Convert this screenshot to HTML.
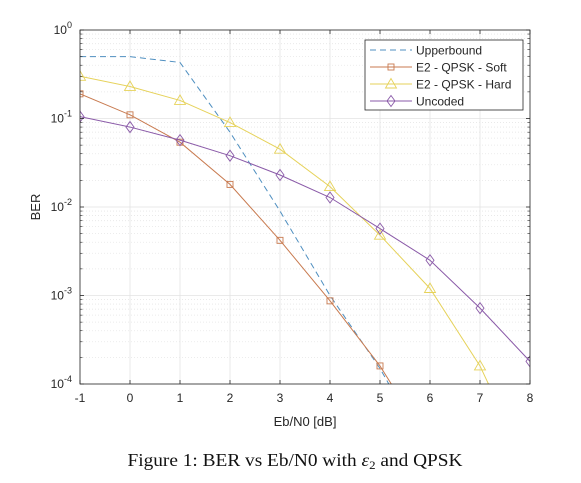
<!DOCTYPE html>
<html><head><meta charset="utf-8"><style>
body{margin:0;background:#fff;width:581px;height:483px;overflow:hidden}
svg{display:block}
</style></head><body>
<svg id="chart" width="581" height="483" xmlns="http://www.w3.org/2000/svg" font-family="Liberation Sans, sans-serif">
<rect x="0" y="0" width="581" height="483" fill="#fff"/>
<rect x="80" y="30" width="450" height="354" fill="#fff"/>
<g id="grid"></g>
<g id="series"></g>
<rect x="80" y="30" width="450" height="354" fill="none" stroke="#262626" stroke-width="0.8"/>
<g id="ticks"></g>
<text x="305" y="426" font-size="13" text-anchor="middle" fill="#262626">Eb/N0 [dB]</text>
<text x="40" y="207" font-size="13" text-anchor="middle" fill="#262626" transform="rotate(-90 40 207)">BER</text>
<g id="legend">
<rect x="365" y="40" width="158" height="70" fill="#fff" stroke="#262626" stroke-width="0.8"/>
</g>
<text x="295" y="466" font-size="18" text-anchor="middle" fill="#111" font-family="Liberation Serif, serif" textLength="335" lengthAdjust="spacingAndGlyphs">Figure 1: BER vs Eb/N0 with <tspan font-style="italic">ε</tspan><tspan font-size="12" dy="3">2</tspan><tspan dy="-3"> and QPSK</tspan></text>
</svg>
<script>
const xValues=[-1,0,1,2,3,4,5,6,7,8];
const upperbound=[0.5,0.5,0.43,0.07,0.009,0.001,0.00015,0.000015,null,null];
const soft=[0.19,0.11,0.054,0.018,0.0042,0.00087,0.00016,0.00002,null,null];
const hard=[0.3,0.23,0.16,0.09,0.045,0.017,0.0048,0.0012,0.00016,0.00001];
const uncoded=[0.105,0.08,0.057,0.038,0.023,0.0128,0.0057,0.0025,0.00072,0.00018];
const xTicks=[-1,0,1,2,3,4,5,6,7,8];
const yTicks=[0,-1,-2,-3,-4];
const legendLabels=["Upperbound","E2 - QPSK - Soft","E2 - QPSK - Hard","Uncoded"];

const NS="http://www.w3.org/2000/svg";
const X0=80,X1=530,Y0=30,Y1=384;
const xs=v=>X0+(v-(-1))/9*(X1-X0);
const ys=v=>Y0+(-Math.log10(v))/4*(Y1-Y0);
function mk(tag,attrs,parent){const e=document.createElementNS(NS,tag);for(const k in attrs)e.setAttribute(k,attrs[k]);parent.appendChild(e);return e;}
const grid=document.getElementById('grid'),ticks=document.getElementById('ticks'),series=document.getElementById('series'),legend=document.getElementById('legend');

xTicks.forEach(t=>{
  const l=mk('line',{x1:xs(t),x2:xs(t),y1:Y0,y2:Y1,stroke:'#e3e3e3','stroke-width':0.8},grid);
  
  
  mk('line',{x1:xs(t),x2:xs(t),y1:Y1,y2:Y1-4,stroke:'#262626','stroke-width':0.8},ticks);
  mk('line',{x1:xs(t),x2:xs(t),y1:Y0,y2:Y0+4,stroke:'#262626','stroke-width':0.8},ticks);
  const tx=mk('text',{x:xs(t),y:Y1+18,'font-size':12,'text-anchor':'middle',fill:'#262626'},ticks);
  tx.textContent=t;
  
  
});
yTicks.forEach(p=>{
  const y=ys(Math.pow(10,p));
  const l=mk('line',{x1:X0,x2:X1,y1:y,y2:y,stroke:'#e3e3e3','stroke-width':0.8},grid);
  
  
  if(p>-4){for(let m=2;m<=9;m++){const yy=ys(m*Math.pow(10,p-1));mk('line',{x1:X0,x2:X1,y1:yy,y2:yy,stroke:'#e6e6e6','stroke-width':0.8,'stroke-dasharray':'1,2'},grid);
    mk('line',{x1:X0,x2:X0+2.5,y1:yy,y2:yy,stroke:'#262626','stroke-width':0.6},ticks);mk('line',{x1:X1,x2:X1-2.5,y1:yy,y2:yy,stroke:'#262626','stroke-width':0.6},ticks);}}
  mk('line',{x1:X0,x2:X0+4,y1:y,y2:y,stroke:'#262626','stroke-width':0.8},ticks);
  mk('line',{x1:X1,x2:X1-4,y1:y,y2:y,stroke:'#262626','stroke-width':0.8},ticks);
  const tx=mk('text',{x:X0-8,y:y+4,'font-size':12,'text-anchor':'end',fill:'#262626'},ticks);
  
  
  tx.appendChild(document.createTextNode('10'));
  const s=mk('tspan',{dy:-6,'font-size':9},tx);s.textContent=String(p);
});

const clip=mk('clipPath',{id:'pc'},document.getElementById('chart'));
mk('rect',{x:X0,y:Y0,width:X1-X0,height:Y1-Y0},clip);

function marker(kind,x,y,color,parent){
  let e;
  if(kind==='sq')e=mk('rect',{x:x-3,y:y-3,width:6,height:6,fill:'none',stroke:color,'stroke-width':0.9},parent);
  else if(kind==='tri')e=mk('polygon',{points:`${x},${y-5.5} ${x-5.5},${y+4} ${x+5.5},${y+4}`,fill:'none',stroke:color,'stroke-width':0.9},parent);
  else e=mk('polygon',{points:`${x},${y-5.5} ${x+4},${y} ${x},${y+5.5} ${x-4},${y}`,fill:'none',stroke:color,'stroke-width':0.9},parent);
  
  
}
const defs=[
 {vals:upperbound,color:'#4f8fc0',dash:'6,4',mk:null,name:'upperbound-line'},
 {vals:soft,color:'#c87a4f',dash:null,mk:'sq',name:'soft-line'},
 {vals:hard,color:'#e6d25a',dash:null,mk:'tri',name:'hard-line'},
 {vals:uncoded,color:'#8a5aa8',dash:null,mk:'dia',name:'uncoded-line'}
];
defs.forEach(d=>{
  const pts=[];xValues.forEach((x,i)=>{if(d.vals[i]!=null)pts.push([xs(x),ys(d.vals[i])]);});
  const g=mk('g',{'clip-path':'url(#pc)'},series);
  const p=mk('polyline',{points:pts.map(q=>q.join(',')).join(' '),fill:'none',stroke:d.color,'stroke-width':1}, g);
  if(d.dash)p.setAttribute('stroke-dasharray',d.dash);
  
  
  if(d.mk)pts.forEach(q=>{if(q[1]<=Y1+1)marker(d.mk,q[0],q[1],d.color,g);});
});
legendLabels.forEach((lab,i)=>{
  const y=50+i*17,d=defs[i];
  const l=mk('line',{x1:370,x2:412,y1:y,y2:y,stroke:d.color,'stroke-width':1},legend);
  if(d.dash)l.setAttribute('stroke-dasharray','6,4');
  if(d.mk)marker(d.mk,391,y,d.color,legend);
  const t=mk('text',{x:416,y:y+4.5,'font-size':12,fill:'#262626'},legend);
  t.textContent=lab;
  
  
});
</script>
</body></html>
